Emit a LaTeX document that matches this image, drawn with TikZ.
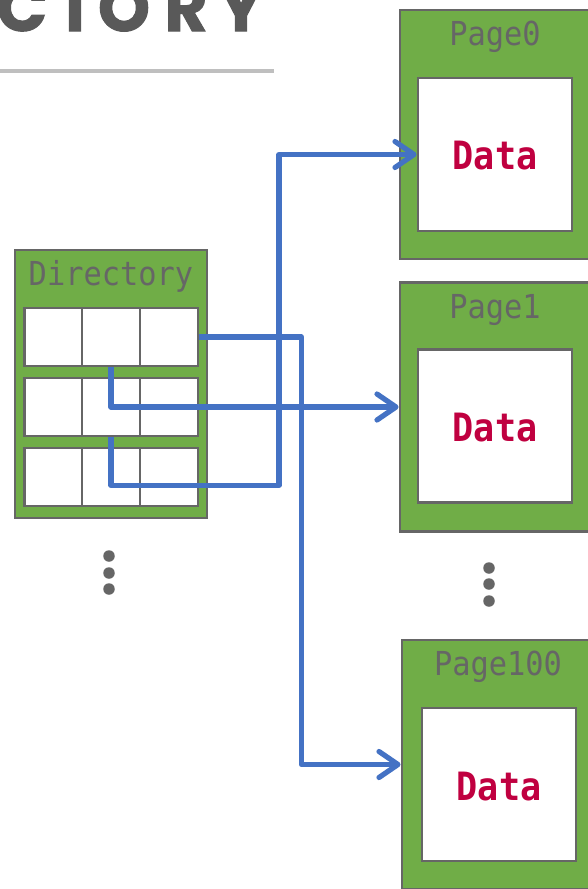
\documentclass[tikz,border=0pt]{standalone}
\usepackage{fontspec}
\usetikzlibrary{arrows.meta,calc}

\newfontfamily\titlefont[FakeBold=1.6]{Poppins}
\newfontfamily\monolabel[FakeStretch=0.92]{DejaVu Sans Mono}
\newfontfamily\monodata[FakeStretch=0.9]{DejaVu Sans Mono}

\definecolor{boxgreen}{HTML}{70AD47}
\definecolor{edgegray}{HTML}{666666}
\definecolor{titlegray}{HTML}{595959}
\definecolor{rulegray}{HTML}{BFBFBF}
\definecolor{linkblue}{HTML}{4472C4}
\definecolor{datared}{HTML}{C00040}

\tikzset{
  heading/.style={anchor=base, inner sep=0pt, text=titlegray,
                  font=\titlefont\bfseries\fontsize{66}{66}\selectfont},
  container/.style={draw=edgegray, line width=2.8pt, fill=boxgreen, inner sep=0pt},
  slot/.style={draw=edgegray, line width=2.5pt, fill=white, inner sep=0pt,
               minimum width=58pt, minimum height=58pt},
  sheet/.style={draw=edgegray, line width=2.8pt, fill=white, inner sep=0pt,
                minimum width=154pt, minimum height=153pt},
  tag/.style={inner sep=0pt, anchor=base, text=edgegray,
              font=\monolabel\fontsize{33}{33}\selectfont},
  datatext/.style={inner sep=0pt, anchor=base, text=datared,
                   font=\monodata\bfseries\fontsize{39}{39}\selectfont},
  vdot/.style={circle, fill=edgegray, inner sep=0pt, minimum size=11.5pt},
  link/.style={draw=linkblue, line width=5.2pt, line join=round,
               -{Straight Barb[length=19pt, width=26pt, line cap=round, line join=round]}}
}

\begin{document}
\begin{tikzpicture}[x=1pt, y=-1pt]
\useasboundingbox (0,0) rectangle (588,889);
\fill[white] (0,0) rectangle (588,889);

% heading letters, widely tracked, and the rule below
\foreach \ch/\cx [count=\i] in {C/22, T/75, O/124, R/186, Y/241} {
  \node[heading] (head\i) at (\cx,31) {\ch};
}
\draw[rulegray, line width=4pt] (0,71) -- (274,71);

% directory block with its 3x3 slots
\node[container, minimum width=192pt, minimum height=268pt] (dir) at (111,384) {};
\node[tag] (dirlbl) at ($(dir.north)+(0,37)$) {Directory};
\foreach \r/\y in {1/337, 2/407, 3/477} {
  \foreach \c/\x in {1/53.5, 2/111, 3/169} {
    \node[slot] (c\r\c) at (\x,\y) {};
  }
}
\node[vdot] (ld1) at (109,556) {};
\node[vdot] (ld2) at (109,573) {};
\node[vdot] (ld3) at (109,589) {};

% pages
\node[container, minimum width=200pt, minimum height=249pt] (p0) at (500,134.5) {};
\node[tag] (p0lbl) at ($(p0.north)+(-5,37)$) {Page0};
\node[sheet] (d0) at (495,154.5) {};
\node[datatext] (d0txt) at ($(d0.north)+(0,93)$) {Data};

\node[container, minimum width=200pt, minimum height=249pt] (p1) at (500,407) {};
\node[tag] (p1lbl) at ($(p1.north)+(-5,37)$) {Page1};
\node[sheet] (d1) at (495,426) {};
\node[datatext] (d1txt) at ($(d1.north)+(0,93)$) {Data};

\node[vdot] (rd1) at (489,568) {};
\node[vdot] (rd2) at (489,584) {};
\node[vdot] (rd3) at (489,601) {};

\node[container, minimum width=200pt, minimum height=249pt] (p100) at (502,764.5) {};
\node[tag] (p100lbl) at ($(p100.north)+(-4,37)$) {Page100};
\node[sheet] (d100) at (499,784.5) {};
\node[datatext] (d100txt) at ($(d100.north)+(0,94)$) {Data};

% slot pointers
\draw[link] (c13.east) -- ++(102,0) |- (p100.west);
\draw[link] (c12.south) |- (p1.west);
\draw[link] (c22.south) -- ++(0,48) -- ++(168,0) |- (d0.west);
\end{tikzpicture}
\end{document}
